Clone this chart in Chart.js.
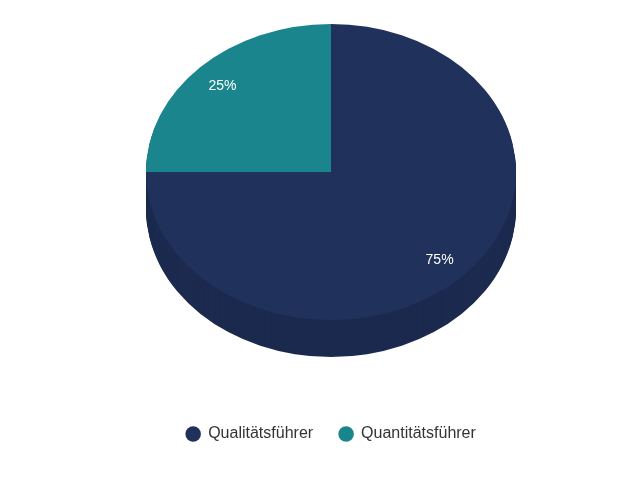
<!DOCTYPE html>
<html>
<head>
<meta charset="utf-8">
<script src="https://cdn.jsdelivr.net/npm/chart.js@4"></script>
<style>
html,body{margin:0;padding:0;background:#fff;}
#wrap{width:640px;height:480px;position:relative;}
</style>
</head>
<body>
<div id="wrap"><canvas id="c" width="640" height="480"></canvas></div>
<script>
const categories = ['Qualitätsführer', 'Quantitätsführer'];
const values = [75, 25];
const labelTexts = ['75%', '25%'];

const topColors = ['#20325c', '#1a858c'];
const sideColors = ['#1b2a4e', '#156d73'];
const TILT = 0.8;
const LIFT = 43;
const DEPTH = 37;
const LABEL_FRAC = 0.83;

function applyTilt(ctx, meta) {
  const el = meta.data[0];
  const cy = el.y;
  ctx.translate(0, cy - LIFT);
  ctx.scale(1, TILT);
  ctx.translate(0, -cy);
}

const pie3d = {
  id: 'pie3d',
  beforeDatasetsDraw(chart) {
    const ctx = chart.ctx;
    const meta = chart.getDatasetMeta(0);
    ctx.save();
    for (let d = DEPTH; d >= 1; d--) {
      meta.data.forEach((el, i) => {
        ctx.save();
        ctx.translate(0, d);
        applyTilt(ctx, meta);
        ctx.beginPath();
        ctx.moveTo(el.x, el.y);
        ctx.arc(el.x, el.y, el.outerRadius, el.startAngle, el.endAngle);
        ctx.closePath();
        ctx.fillStyle = sideColors[i];
        ctx.fill();
        ctx.restore();
      });
    }
    applyTilt(ctx, meta);
  },
  afterDatasetsDraw(chart) {
    const ctx = chart.ctx;
    ctx.restore();
    const meta = chart.getDatasetMeta(0);
    ctx.save();
    ctx.font = '14px "Liberation Sans", Arial, sans-serif';
    ctx.fillStyle = '#ffffff';
    ctx.textAlign = 'center';
    ctx.textBaseline = 'middle';
    meta.data.forEach((el, i) => {
      const mid = (el.startAngle + el.endAngle) / 2;
      const r = el.outerRadius * LABEL_FRAC;
      const lx = el.x + Math.cos(mid) * r;
      const ly = (el.y - LIFT) + Math.sin(mid) * r * TILT;
      ctx.fillText(labelTexts[i], lx, ly + 1);
    });
    ctx.restore();
  }
};

new Chart(document.getElementById('c'), {
  type: 'pie',
  data: {
    labels: categories,
    datasets: [{
      data: values,
      backgroundColor: topColors,
      borderWidth: 0,
      clip: false
    }]
  },
  options: {
    responsive: false,
    animation: false,
    layout: { padding: { top: 30, bottom: 28, left: 22, right: 0 } },
    plugins: {
      tooltip: { enabled: false },
      legend: {
        position: 'bottom',
        labels: {
          usePointStyle: true,
          pointStyle: 'circle',
          boxWidth: 14,
          boxHeight: 11,
          padding: 26,
          color: '#333333',
          font: { family: '"Liberation Sans", Arial, sans-serif', size: 16 }
        }
      }
    }
  },
  plugins: [pie3d]
});
</script>
</body>
</html>
